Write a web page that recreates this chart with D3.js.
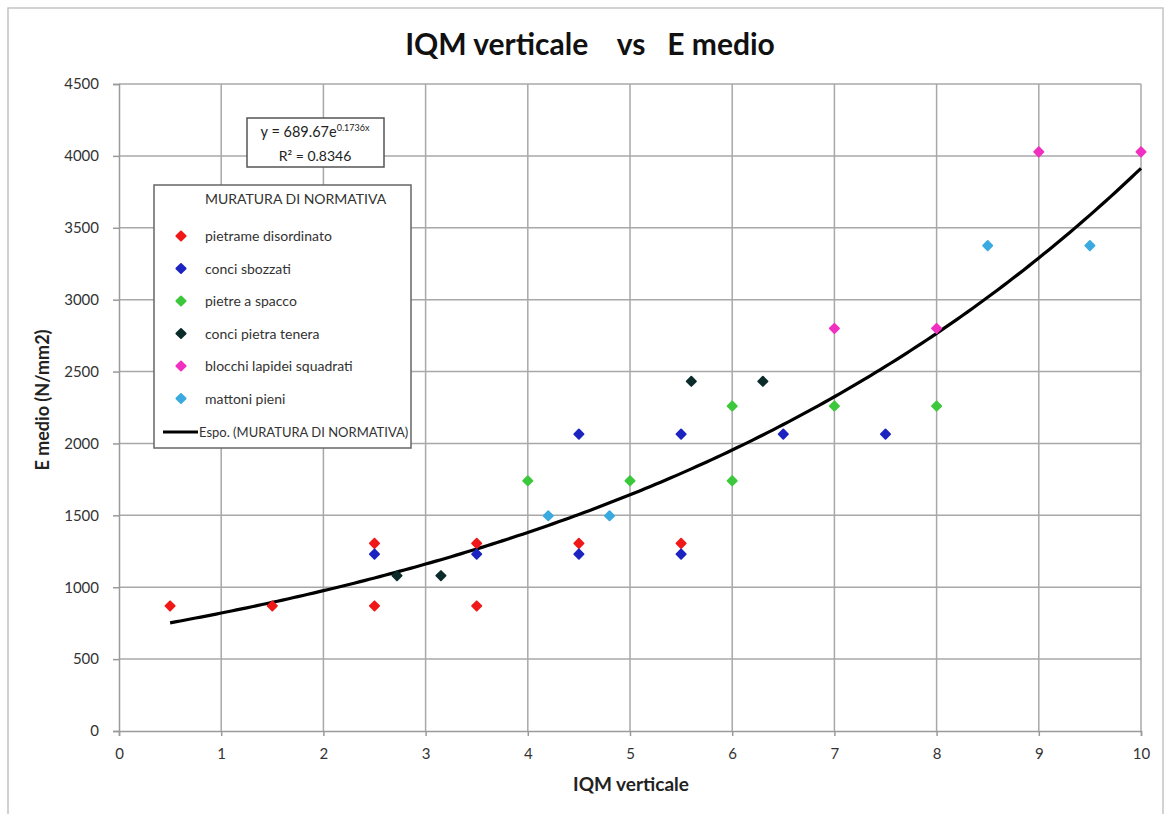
<!DOCTYPE html>
<html><head><meta charset="utf-8">
<script src="https://cdn.jsdelivr.net/npm/d3@7"></script>
<style>body{margin:0;background:#fff;} text{font-family:Lato,"Open Sans",sans-serif;}</style>
</head><body><svg id="c" width="1167" height="814"></svg>
<script>
const seriesNames = ["pietrame disordinato","conci sbozzati","pietre a spacco","conci pietra tenera","blocchi lapidei squadrati","mattoni pieni"];
const seriesColors = ["#f01818","#1c24c0","#3cc83c","#0c2c2c","#f030c0","#3aaae0"];
const pietrameX = [0.5,1.5,2.5,2.5,3.5,3.5,4.5,5.5];
const pietrameY = [870,870,1305,870,1305,870,1305,1305];
const sbozzatiX = [2.5,3.5,4.5,5.5,4.5,5.5,6.5,7.5];
const sbozzatiY = [1230,1230,1230,1230,2065,2065,2065,2065];
const spaccoX = [4,5,6,6,7,8];
const spaccoY = [1740,1740,1740,2260,2260,2260];
const teneraX = [2.72,3.15,5.6,6.3];
const teneraY = [1080,1080,2432,2432];
const blocchiX = [7,8,9,10];
const blocchiY = [2800,2800,4028,4028];
const mattoniX = [4.2,4.8,8.5,9.5];
const mattoniY = [1497,1497,3376,3376];
const trendCoef = [689.67, 0.1736];
const trendRange = [0.5, 10];
const xTicks = [0,1,2,3,4,5,6,7,8,9,10];
const yTicks = [0,500,1000,1500,2000,2500,3000,3500,4000,4500];

const allX = [pietrameX,sbozzatiX,spaccoX,teneraX,blocchiX,mattoniX];
const allY = [pietrameY,sbozzatiY,spaccoY,teneraY,blocchiY,mattoniY];

const svg = d3.select("#c");
const L=119, R=1141, T=84, B=731;
const x = d3.scaleLinear().domain([0,10]).range([L,R]);
const y = d3.scaleLinear().domain([0,4500]).range([B,T]);

// outer frame
svg.append("rect").attr("x",8).attr("y",8).attr("width",1155).attr("height",830)
  .attr("fill","none").attr("stroke","#c4c4c4").attr("stroke-width",1.5);

// gridlines
const gc="#a8a8a8";
svg.append("g").selectAll("line").data(yTicks.slice(1)).join("line")
  .attr("x1",L).attr("x2",R).attr("y1",d=>y(d)).attr("y2",d=>y(d))
  .attr("stroke",gc).attr("stroke-width",1.5);
svg.append("g").selectAll("line").data(xTicks.slice(1)).join("line")
  .attr("y1",T).attr("y2",B).attr("x1",d=>x(d)).attr("x2",d=>x(d))
  .attr("stroke",gc).attr("stroke-width",1.5);

// axes
const ya = svg.append("g").attr("transform",`translate(${L},0)`)
  .call(d3.axisLeft(y).tickValues(yTicks).tickSize(6).tickPadding(14).tickFormat(d3.format("d")));
const xa = svg.append("g").attr("transform",`translate(0,${B})`)
  .call(d3.axisBottom(x).tickValues(xTicks).tickSize(5).tickPadding(12).tickFormat(d3.format("d")));
[ya,xa].forEach(a=>{
  a.selectAll("path,line").attr("stroke","#9a9a9a").attr("stroke-width",1.5);
  a.selectAll("text").attr("font-size",15).attr("fill","#333").style("font-family","Lato,sans-serif");
});

// title & axis labels
svg.append("text").attr("x",590).attr("y",55).attr("text-anchor","middle")
  .attr("font-size",30).attr("font-weight","bold").attr("fill","#111")
  .attr("xml:space","preserve").text("IQM verticale    vs   E medio");
svg.append("text").attr("x",631).attr("y",791).attr("text-anchor","middle")
  .attr("font-size",19).attr("font-weight","bold").attr("fill","#222").text("IQM verticale");
svg.append("text").attr("transform","translate(49,400) rotate(-90)").attr("text-anchor","middle")
  .attr("font-size",18).attr("font-weight","bold").attr("fill","#222").text("E  medio (N/mm2)");

// trendline
const tx = d3.range(trendRange[0], trendRange[1]+0.001, 0.05);
const line = d3.line().x(d=>x(d)).y(d=>y(trendCoef[0]*Math.exp(trendCoef[1]*d))).curve(d3.curveLinear);
svg.append("path").attr("d",line(tx)).attr("fill","none").attr("stroke","#000").attr("stroke-width",3.2);

// markers
const diamond = d3.symbol().type(d3.symbolDiamond2).size(55);
allX.forEach((xs,i)=>{
  svg.append("g").selectAll("path").data(xs.map((v,j)=>[v,allY[i][j]])).join("path")
    .attr("d",diamond).attr("transform",d=>`translate(${x(d[0])},${y(d[1])})`)
    .attr("fill",seriesColors[i]).attr("stroke",seriesColors[i]).attr("stroke-width",1.8).attr("stroke-linejoin","round");
});

// equation box
const eq = svg.append("g");
eq.append("rect").attr("x",247).attr("y",118).attr("width",137).attr("height",49)
  .attr("fill","#fff").attr("stroke","#555").attr("stroke-width",1.5);
const t1 = eq.append("text").attr("x",315).attr("y",137).attr("text-anchor","middle")
  .attr("font-size",14.5).attr("fill","#222");
t1.append("tspan").text("y = 689.67e");
t1.append("tspan").attr("dy",-6).attr("font-size",9).text("0.1736x");
eq.append("text").attr("x",315).attr("y",161).attr("text-anchor","middle")
  .attr("font-size",14).attr("fill","#222").text("R² = 0.8346");

// legend
const lg = svg.append("g");
lg.append("rect").attr("x",154).attr("y",185).attr("width",257).attr("height",263)
  .attr("fill","#fff").attr("stroke","#666").attr("stroke-width",1.5);
lg.append("text").attr("x",205).attr("y",204).attr("font-size",14).attr("fill","#333").text("MURATURA DI NORMATIVA");
seriesNames.forEach((n,i)=>{
  const yy = 236 + i*32.5;
  lg.append("path").attr("d",diamond).attr("transform",`translate(181,${yy})`)
    .attr("fill",seriesColors[i]).attr("stroke",seriesColors[i]).attr("stroke-width",1.8).attr("stroke-linejoin","round");
  lg.append("text").attr("x",205).attr("y",yy+5).attr("font-size",14).attr("fill","#333").text(n);
});
lg.append("line").attr("x1",163).attr("x2",198).attr("y1",432).attr("y2",432).attr("stroke","#000").attr("stroke-width",3.2);
lg.append("text").attr("x",199).attr("y",437).attr("font-size",13).attr("fill","#333").text("Espo. (MURATURA DI NORMATIVA)");
</script></body></html>
